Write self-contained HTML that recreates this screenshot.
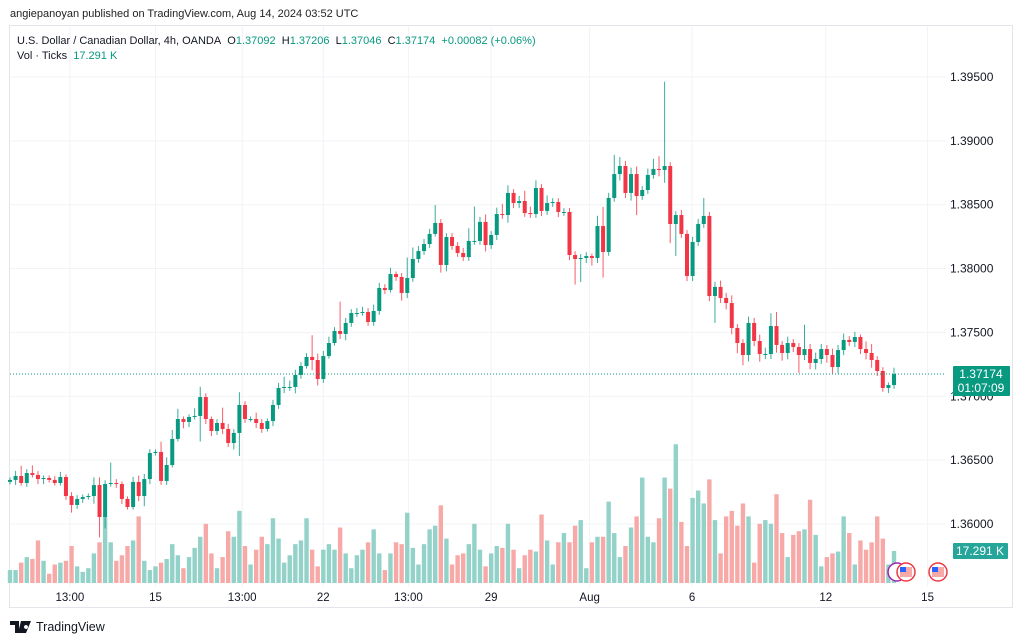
<!DOCTYPE html>
<html><head><meta charset="utf-8">
<style>
html,body{margin:0;padding:0;background:#fff;}
body{width:1024px;height:643px;overflow:hidden;position:relative;font-family:"Liberation Sans",sans-serif;}
#hdr{position:absolute;left:10px;top:8px;font-size:11px;color:#222;}
#frame{position:absolute;left:9px;top:25px;width:1004px;height:583px;border:1px solid #e3e5ea;box-sizing:border-box;}
#legend{position:absolute;left:17px;top:34px;font-size:11px;color:#131722;line-height:15px;}
#legend .v{color:#089981;}
#tv{position:absolute;left:10px;top:620px;font-size:12.5px;color:#131722;display:flex;align-items:center;gap:4px;}
svg{position:absolute;left:0;top:0;}
</style></head><body>
<div id="hdr">angiepanoyan published on TradingView.com, Aug 14, 2024 03:52 UTC</div>
<div id="frame"></div>
<svg id="chart" width="1024" height="643"></svg>
<div id="legend">
<div>U.S. Dollar / Canadian Dollar, 4h, OANDA&nbsp; O<span class="v">1.37092</span>&nbsp; H<span class="v">1.37206</span>&nbsp; L<span class="v">1.37046</span>&nbsp; C<span class="v">1.37174</span>&nbsp; <span class="v">+0.00082 (+0.06%)</span></div>
<div>Vol · Ticks&nbsp; <span class="v">17.291 K</span></div>
</div>
<div id="tv"><svg width="22" height="12" style="position:static"><path d="M0 0h9v12H5V4H0z M11 0h4l-3 12H8z M16 4a2 2 0 1 0 0.01 0z M15 0h6l-5 12h-4z" fill="#131722"/></svg><span>TradingView</span></div>
<script>
const closes=[1.36345,1.36376,1.36321,1.36399,1.36384,1.36352,1.36360,1.36345,1.36321,1.36368,1.36219,1.36149,1.36196,1.36211,1.36219,1.36305,1.36055,1.36313,1.36321,1.36313,1.36196,1.36133,1.36329,1.36219,1.36352,1.36556,1.36564,1.36337,1.36462,1.36666,1.36822,1.36799,
1.36838,1.36846,1.36994,1.36822,1.36728,1.36791,1.36744,1.36634,1.36713,1.36932,1.36822,1.36822,1.36791,1.36744,1.36806,1.36932,1.37065,1.37073,1.37073,1.37167,1.37237,1.37308,1.37284,1.37135,1.37315,1.37417,1.37511,1.37488,1.37574,1.37652,1.37652,
1.37660,1.37582,1.37668,1.37848,1.37832,1.37957,1.37934,1.37809,1.37926,1.38075,1.38137,1.38192,1.38271,1.38357,1.38028,1.38247,1.38177,1.38122,1.38090,1.38216,1.38216,1.38365,1.38184,1.38263,1.38427,1.38419,1.38592,1.38513,1.38529,1.38435,1.38427,
1.38631,1.38451,1.38513,1.38521,1.38443,1.38443,1.38106,1.38075,1.38083,1.38098,1.38083,1.38333,1.38130,1.38553,1.38740,1.38803,1.38592,1.38740,1.38568,1.38615,1.38733,1.38780,1.38772,1.38803,1.38349,1.38419,1.38271,1.37942,1.38208,1.38349,1.38412,1.37785,
1.37856,1.37770,1.37730,1.37535,1.37417,1.37323,1.37574,1.37433,1.37331,1.37331,1.37550,1.37402,1.37339,1.37417,1.37386,1.37323,1.37370,1.37261,1.37292,1.37370,1.37323,1.37229,1.37362,1.37441,1.37425,1.37464,1.37370,1.37339,1.37284,1.37198,1.37065,1.37088,1.37174];
const firstOpen=1.36330;
const wickUpPips=[2,4,8,3,6,3,2,2,3,4,2,3,3,2,2,6,6,3,16,3,2,2,4,5,4,3,2,8,6,7,8,2,
2,6,8,3,2,3,12,4,3,10,3,2,5,3,2,4,4,8,5,4,3,3,17,5,4,5,3,23,4,3,4,
4,3,5,4,3,5,2,3,16,9,4,4,4,14,3,3,3,3,4,10,27,4,6,3,5,8,6,3,4,8,5,
6,3,6,3,3,3,3,3,3,3,2,8,15,4,15,7,4,5,6,3,5,8,10,66,3,3,4,3,4,4,14,3,
4,5,4,6,3,3,5,4,5,5,10,11,3,5,3,3,19,4,5,4,3,5,4,5,3,4,2,6,7,3,3,2,5];
const wickDnPips=[2,4,2,3,2,4,4,2,2,2,3,6,3,3,2,6,16,9,2,3,4,2,2,4,8,4,2,3,3,2,2,5,
4,2,20,4,4,3,4,3,5,18,3,2,4,3,2,4,3,4,3,5,3,2,8,5,3,2,2,4,5,3,3,
2,3,3,3,3,2,3,6,4,3,3,3,3,2,6,5,3,3,3,3,3,3,5,3,4,3,6,4,4,3,3,
3,4,3,3,4,3,4,20,18,4,6,4,20,3,3,5,4,6,15,3,3,3,5,10,15,25,3,4,4,3,3,4,
21,4,5,5,8,8,5,4,6,4,4,6,6,5,4,14,4,5,5,4,6,5,5,4,3,4,4,5,6,4,3,4,3];
const volumesK=[7,7,11,14,13,23,12,5,10,11,12,20,9,6,8,16,22,36,22,12,15,20,23,36,12,7,9,11,13,21,15,8,
14,19,25,32,16,8,14,28,25,39,20,10,18,25,21,35,24,11,15,21,23,35,18,9,18,21,18,30,16,8,15,
18,22,29,16,7,16,22,21,38,19,10,21,29,31,42,24,10,15,16,21,32,18,9,16,20,19,32,18,8,15,18,
17,37,23,10,22,27,22,31,34,8,22,25,25,44,27,14,20,30,36,57,25,22,35,57,51,75,33,20,46,50,43,56,
34,16,36,39,31,43,36,11,32,34,32,48,27,14,26,28,29,45,26,9,14,16,17,36,27,10,23,18,22,36,24,10,17.291];
const priceTicks=[1.395,1.390,1.385,1.380,1.375,1.370,1.365,1.360];
const timeLabels=["13:00","15","13:00","22","13:00","29","Aug","6","12","15"];
const timeIdx=[10.7,26,41.5,56,71.2,86,103.6,121.9,145.8,164];
const lastPrice=1.37174, lastTimer="01:07:09", lastVol="17.291 K";

const NS="http://www.w3.org/2000/svg";
const svg=document.getElementById('chart');
function el(t,a,p){const e=document.createElementNS(NS,t);for(const k in a)e.setAttribute(k,a[k]);(p||svg).appendChild(e);return e;}
const X0=10,STEP=5.595;
function xAt(i){return X0+i*STEP;}
function yP(p){return 524-(p-1.36)*12772;}
function yV(v){return 583-v*1.85;}
const PLOT_R=945;

priceTicks.forEach(p=>{
  const g=el('line',{x1:10,x2:PLOT_R,y1:yP(p),y2:yP(p),stroke:'#f2f3f6','stroke-width':1});
  
  
});
timeIdx.forEach(i=>{
  const g=el('line',{x1:xAt(i),x2:xAt(i),y1:26,y2:587,stroke:'#f2f3f6','stroke-width':1});
  
  
});
const opens=closes.map((c,i)=>i?closes[i-1]:firstOpen);
volumesK.forEach((v,i)=>{
  const up=closes[i]>=opens[i];
  const y=yV(v);
  const r=el('rect',{x:xAt(i)-2.2,y:y,width:4.4,height:583-y,fill:up?'#92d2c8':'#f7a9a7'});
  
  
});
closes.forEach((c,i)=>{
  const o=opens[i],up=c>=o;
  const col=up?'#089981':'#f23645';
  const hi=Math.max(o,c)+wickUpPips[i]*0.0001;
  const lo=Math.min(o,c)-wickDnPips[i]*0.0001;
  const x=xAt(i);
  const w=el('line',{x1:x,x2:x,y1:yP(hi),y2:yP(lo),stroke:col,'stroke-width':1,opacity:0.8});
  
  
  const yt=yP(Math.max(o,c)),yb=yP(Math.min(o,c));
  const b=el('rect',{x:x-2,y:yt,width:4,height:Math.max(1,yb-yt),fill:col});
  
  
});
const lp=el('line',{x1:10,x2:PLOT_R,y1:yP(lastPrice),y2:yP(lastPrice),stroke:'#089981','stroke-width':1,'stroke-dasharray':'1 2'});


priceTicks.forEach(p=>{
  const t=el('text',{x:950,y:yP(p)+4,'font-size':12,fill:'#131722','font-family':'Liberation Sans, sans-serif'});
  t.textContent=p.toFixed(5);
  
  
});
timeLabels.forEach((s,k)=>{
  const t=el('text',{x:xAt(timeIdx[k]),y:601,'font-size':11.5,fill:'#131722','text-anchor':'middle','font-family':'Liberation Sans, sans-serif'});
  t.textContent=s;
  
  
});
const ly=yP(lastPrice);
const bg=el('rect',{x:953,y:ly-8,width:57,height:30,fill:'#089981',rx:1});


const t1=el('text',{x:981,y:ly+4,'font-size':12,fill:'#fff','text-anchor':'middle','font-family':'Liberation Sans, sans-serif'});
t1.textContent=lastPrice.toFixed(5);


const t2=el('text',{x:981,y:ly+18,'font-size':12,fill:'#fff','text-anchor':'middle','font-family':'Liberation Sans, sans-serif'});
t2.textContent=lastTimer;


const vb=el('rect',{x:953,y:543,width:55,height:16,fill:'#26a69a',rx:1});


const vt=el('text',{x:980,y:555,'font-size':12,fill:'#fff','text-anchor':'middle','font-family':'Liberation Sans, sans-serif'});
vt.textContent=lastVol;


[[897,572,'#9c27b0'],[906,572,'#f23645'],[938,572,'#f23645']].forEach((d,k)=>{
  const c=el('circle',{cx:d[0],cy:d[1],r:9,fill:'#fff',stroke:d[2],'stroke-width':1.5});
  
  
  if(k>0){
    const f=el('rect',{x:d[0]-6,y:d[1]-5,width:12,height:10,fill:'#f7a9a7'});
    
    
    const f2=el('rect',{x:d[0]-6,y:d[1]-5,width:6,height:5,fill:'#2962ff'});
    
    
  }
});
</script>
</body></html>
